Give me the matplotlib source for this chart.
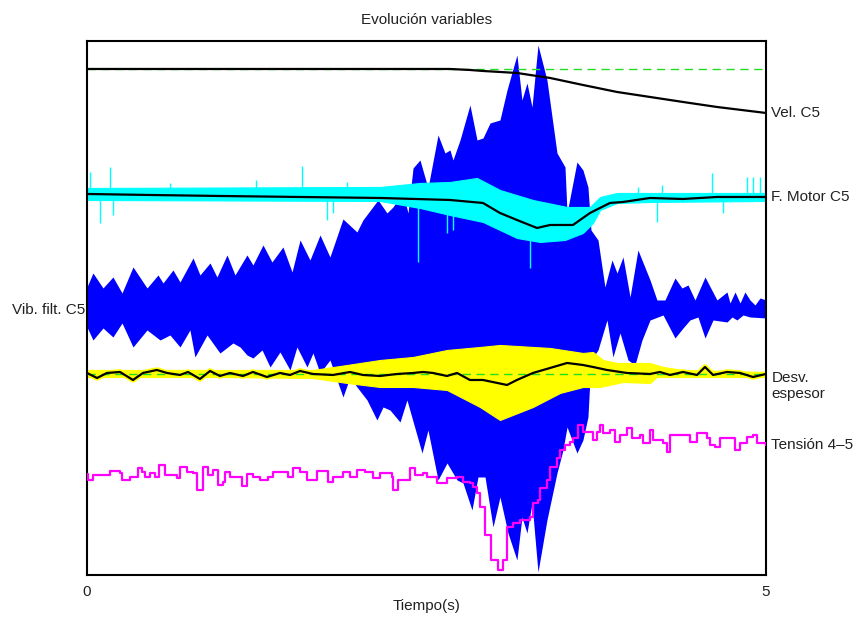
import numpy as np
import matplotlib.pyplot as plt

plt.rcParams['font.family'] = ['Liberation Sans', 'DejaVu Sans']

# ---- filtered vibration C5: envelope around its own zero (plot units)
vib_up_t = [0, 0.044, 0.118, 0.191, 0.258, 0.339, 0.442, 0.523, 0.560, 0.633,
            0.685, 0.781, 0.832, 0.906, 0.957, 1.031, 1.090, 1.178, 1.222, 1.296,
            1.362, 1.443, 1.510, 1.569, 1.642, 1.716, 1.789, 1.885, 1.988, 2.032,
            2.143, 2.209, 2.253, 2.327, 2.364, 2.401, 2.452, 2.511, 2.585, 2.636,
            2.673, 2.695, 2.747, 2.820, 2.872, 2.916, 2.968, 3.041, 3.093, 3.166,
            3.203, 3.240, 3.277, 3.321, 3.387, 3.461, 3.520, 3.535, 3.608, 3.652,
            3.689, 3.711, 3.763, 3.814, 3.866, 3.903, 3.947, 3.999, 4.057, 4.146,
            4.197, 4.256, 4.330, 4.381, 4.426, 4.477, 4.551, 4.639, 4.713, 4.735,
            4.772, 4.809, 4.845, 4.882, 4.919, 4.956, 5.0]
vib_up = [23, 37, 22, 33, 17, 43, 22, 35, 27, 40,
          28, 52, 35, 47, 33, 55, 35, 55, 45, 65,
          48, 63, 38, 70, 50, 75, 53, 91, 78, 90,
          110, 97, 103, 117, 97, 142, 150, 122, 175, 157,
          160, 150, 170, 205, 170, 172, 187, 190, 220, 255,
          210, 227, 203, 265, 230, 157, 143, 97, 148, 140,
          123, 80, 70, 23, 50, 37, 53, 13, 60, 30,
          10, 10, 32, 22, 25, 10, 33, 10, 18, 7,
          18, 7, 18, 10, 5, 12, 10]
vib_lo_t = [0, 0.044, 0.118, 0.191, 0.258, 0.339, 0.442, 0.538, 0.611, 0.685,
            0.758, 0.795, 0.884, 0.979, 1.075, 1.127, 1.178, 1.222, 1.289, 1.348,
            1.421, 1.495, 1.546, 1.620, 1.664, 1.716, 1.789, 1.885, 1.937, 1.988,
            2.062, 2.135, 2.180, 2.231, 2.305, 2.356, 2.467, 2.511, 2.585, 2.651,
            2.725, 2.769, 2.835, 2.879, 2.931, 2.990, 3.041, 3.100, 3.166, 3.203,
            3.240, 3.277, 3.321, 3.387, 3.461, 3.505, 3.535, 3.608, 3.652, 3.689,
            3.711, 3.763, 3.829, 3.873, 3.925, 3.984, 4.035, 4.087, 4.146, 4.242,
            4.330, 4.389, 4.440, 4.499, 4.551, 4.610, 4.713, 4.750, 4.786, 4.831,
            4.882, 5.0]
vib_lo = [-17, -30, -18, -27, -13, -37, -20, -30, -25, -37,
          -20, -47, -25, -43, -33, -37, -45, -48, -40, -57,
          -42, -60, -37, -57, -43, -63, -50, -87, -67, -77,
          -90, -110, -97, -100, -112, -90, -143, -120, -170, -153,
          -170, -173, -200, -167, -167, -217, -187, -223, -250, -207,
          -223, -193, -262, -210, -163, -140, -117, -143, -130, -107,
          -50, -40, -10, -47, -23, -50, -55, -30, -10, -5,
          -28, -18, -10, -7, -28, -10, -12, -7, -10, -5,
          -7, -8]

# ---- speed C5
vel_t = [0, 1.569, 2.305, 2.673, 2.820, 2.916, 3.166, 3.410, 3.652, 3.903,
         4.146, 4.389, 4.639, 5.0]
vel = [506, 506, 506, 506, 505, 504, 502, 497, 490, 483,
       478, 473, 468, 462]
vel_ref = 506

# ---- motor force C5: filtered line, raw band, raw spikes
mot_t = [0, 0.464, 0.979, 1.569, 2.158, 2.673, 2.916, 3.041, 3.166, 3.314,
         3.410, 3.579, 3.704, 3.851, 3.947, 4.146, 4.389, 4.639, 5.0]
mot = [381, 380, 379, 378, 377, 375, 372, 362, 355, 347,
       350, 350, 362, 372, 373, 377, 376, 378, 378]
mot_up_t = [0, 2.158, 2.452, 2.673, 2.872, 3.041, 3.284, 3.535, 3.704, 3.778, 3.903, 5.0]
mot_up = [387, 388, 392, 393, 397, 385, 375, 368, 368, 378, 382, 382]
mot_lo_t = [0, 2.158, 2.452, 2.673, 2.916, 3.166, 3.336, 3.520, 3.652, 3.726,
            3.778, 3.903, 4.146, 5.0]
mot_lo = [375, 374, 367, 360, 353, 337, 333, 335, 342, 352,
          365, 372, 373, 374]
spike_t = [0.022, 0.096, 0.169, 0.191, 0.611, 1.245, 1.583, 1.767, 1.811, 1.915,
           2.437, 2.651, 2.695, 3.262, 4.057, 4.197, 4.234, 4.602, 4.683, 4.860,
           4.904, 4.956, 4.993]
spike = [403, 352, 408, 360, 392, 395, 409, 355, 362, 393,
         313, 342, 345, 307, 388, 353, 390, 402, 362, 398,
         398, 398, 398]

# ---- thickness deviation: filtered line and raw band
dev_t = [0, 0.074, 0.147, 0.243, 0.339, 0.412, 0.515, 0.589, 0.685, 0.744,
         0.832, 0.906, 0.979, 1.053, 1.149, 1.222, 1.325, 1.421, 1.495, 1.569,
         1.664, 1.811, 1.937, 2.032, 2.158, 2.283, 2.401, 2.474, 2.548, 2.651,
         2.725, 2.820, 2.916, 3.093, 3.166, 3.284, 3.410, 3.535, 3.652, 3.726,
         3.829, 3.976, 4.146, 4.219, 4.293, 4.389, 4.492, 4.551, 4.610, 4.713,
         4.809, 4.904, 5.0]
dev = [202, 197, 202, 203, 195, 202, 205, 202, 200, 203,
       196, 204, 199, 202, 199, 203, 198, 202, 200, 204,
       201, 200, 203, 200, 199, 201, 202, 203, 202, 199,
       202, 195, 195, 190, 195, 202, 207, 212, 210, 208,
       205, 202, 201, 203, 200, 203, 200, 208, 200, 203,
       202, 198, 201]
dev_ref = 201
dev_up_t = [0, 1.0, 1.664, 1.915, 2.158, 2.401, 2.651, 2.894, 3.041, 3.410,
            3.652, 3.726, 3.800, 3.903, 4.146, 4.242, 4.389, 5.0]
dev_up = [205, 205, 205, 210, 215, 218, 225, 228, 230, 227,
          222, 223, 215, 212, 212, 208, 205, 203]
dev_lo_t = [0, 1.0, 1.664, 1.915, 2.158, 2.401, 2.651, 2.894, 3.041, 3.284,
            3.483, 3.652, 3.778, 3.947, 4.146, 4.197, 4.389, 5.0]
dev_lo = [198, 198, 197, 192, 188, 188, 185, 168, 155, 168,
          182, 188, 188, 193, 192, 198, 198, 198]

# ---- strip tension 4-5 (stepped signal)
ten_t = [0, 0.007, 0.044, 0.169, 0.243, 0.258, 0.317, 0.376, 0.405, 0.427,
         0.464, 0.501, 0.530, 0.574, 0.663, 0.685, 0.736, 0.781, 0.810, 0.854,
         0.891, 0.928, 0.965, 1.001, 1.016, 1.053, 1.141, 1.178, 1.222, 1.274,
         1.333, 1.370, 1.480, 1.517, 1.569, 1.620, 1.694, 1.775, 1.811, 1.885,
         1.937, 1.988, 2.047, 2.106, 2.158, 2.246, 2.253, 2.290, 2.379, 2.415,
         2.474, 2.504, 2.577, 2.651, 2.725, 2.769, 2.820, 2.842, 2.872, 2.894,
         2.931, 2.975, 3.027, 3.063, 3.093, 3.137, 3.189, 3.262, 3.284, 3.321,
         3.336, 3.387, 3.410, 3.461, 3.483, 3.520, 3.557, 3.579, 3.616, 3.652,
         3.726, 3.756, 3.778, 3.800, 3.851, 3.888, 3.925, 3.976, 4.013, 4.072,
         4.094, 4.146, 4.168, 4.242, 4.271, 4.293, 4.440, 4.492, 4.566, 4.588,
         4.624, 4.661, 4.772, 4.809, 4.860, 4.904, 4.934, 5.0]
ten = [101, 95, 100, 104, 102, 95, 98, 107, 103, 98,
       102, 98, 110, 100, 97, 108, 103, 102, 85, 108,
       100, 105, 90, 93, 103, 98, 89, 101, 98, 95,
       98, 103, 98, 107, 103, 95, 104, 93, 98, 103,
       98, 105, 103, 97, 102, 98, 85, 95, 107, 100,
       102, 98, 92, 97, 98, 93, 92, 88, 82, 68,
       40, 15, 5, 15, 48, 52, 55, 58, 72, 75,
       87, 95, 108, 117, 125, 130, 133, 137, 150, 143,
       135, 143, 150, 142, 145, 133, 140, 147, 137, 140,
       132, 145, 135, 132, 123, 140, 133, 142, 137, 130,
       128, 137, 125, 132, 138, 140, 132, 130]

# vertical placement of the vibration trace
VIB_OFFSET = 265

fig = plt.figure(figsize=(8.57, 6.18), dpi=100)
ax = fig.add_axes([0.1015, 0.0696, 0.7923, 0.8641])

vib_grid = np.union1d(vib_up_t, vib_lo_t)
ax.fill_between(vib_grid,
                VIB_OFFSET + np.interp(vib_grid, vib_lo_t, vib_lo),
                VIB_OFFSET + np.interp(vib_grid, vib_up_t, vib_up),
                color='#0000ff', lw=0, zorder=1)

mot_grid = np.union1d(mot_up_t, mot_lo_t)
ax.fill_between(mot_grid, np.interp(mot_grid, mot_lo_t, mot_lo),
                np.interp(mot_grid, mot_up_t, mot_up),
                color='#00ffff', lw=0.8, edgecolor='#00ffff', zorder=2)
ax.vlines(spike_t, np.interp(spike_t, mot_t, mot), spike,
          color='#00ffff', lw=1, zorder=2)
ax.plot(mot_t, mot, color='k', lw=1.6, zorder=3)

dev_grid = np.union1d(dev_up_t, dev_lo_t)
ax.fill_between(dev_grid, np.interp(dev_grid, dev_lo_t, dev_lo),
                np.interp(dev_grid, dev_up_t, dev_up),
                color='#ffff00', lw=0.8, edgecolor='#ffff00', zorder=2)
ax.plot(dev_t, dev, color='#ffff00', lw=4, zorder=2)
ax.axhline(dev_ref, color='#22dd22', lw=1, ls=(0, (6, 4)), zorder=3)
ax.plot(dev_t, dev, color='k', lw=1.6, zorder=4)

ax.axhline(vel_ref, color='#22dd22', lw=1, ls=(0, (6, 4)), zorder=3)
ax.plot(vel_t, vel, color='k', lw=1.6, zorder=4)

ax.plot(ten_t, ten, color='#ff00ff', lw=1.6, drawstyle='steps-post', zorder=4)

ax.set_xlim(0, 5)
ax.set_ylim(0, 534)
ax.set_xticks([0, 5])
ax.set_yticks([])
ax.tick_params(axis='x', direction='in', length=0, pad=7, labelsize=11,
               labelcolor='#222222')
for s in ax.spines.values():
    s.set_linewidth(1.5)

# trace labels
kw = dict(fontsize=11, va='center', clip_on=False, color='#222222')
ax.text(5.04, vel[-1], 'Vel. C5', ha='left', **kw)
ax.text(5.04, mot[-1], 'F. Motor C5', ha='left', **kw)
ax.text(5.04, 189, 'Desv.\nespesor', ha='left', linespacing=1.2, **kw)
ax.text(5.04, ten[-1], 'Tensión 4\u20135', ha='left', **kw)
ax.text(-0.015, VIB_OFFSET, 'Vib. filt. C5', ha='right', **kw)

ax.set_title('Evolución variables', fontsize=11, pad=12, color='#222222')
ax.set_xlabel('Tiempo(s)', fontsize=11, labelpad=0, color='#222222')

fig.savefig('out.png', dpi=100)
